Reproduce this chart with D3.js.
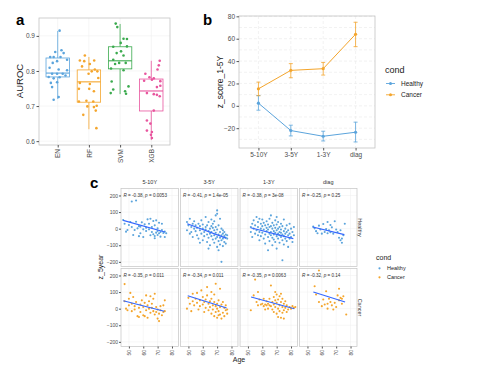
<!DOCTYPE html>
<html>
<head>
<meta charset="utf-8">
<script src="https://cdn.jsdelivr.net/npm/d3@7"></script>
<style>
  body { margin: 0; background: #fff; }
  svg { display: block; font-family: "Liberation Sans", Arial, sans-serif; }
</style>
</head>
<body>
<svg id="canvas" width="485" height="367"></svg>
<script>
// ---- panel a data ----
const models = ["EN", "RF", "SVM", "XGB"];
// [lower whisker, q1, median, q3, upper whisker]
const boxStats = [
  [0.720, 0.783, 0.794, 0.837, 0.914],
  [0.634, 0.711, 0.769, 0.803, 0.840],
  [0.734, 0.806, 0.829, 0.869, 0.934],
  [0.603, 0.686, 0.743, 0.777, 0.829]
];
// [auroc, jitter offset in category units]
const enPoints = [[0.915,0.06],[0.859,0.12],[0.854,-0.08],[0.851,0.19],[0.84,-0.24],[0.84,-0.13],[0.84,0.09],[0.828,-0.02],[0.832,0.30],[0.823,-0.16],[0.809,-0.26],[0.804,0.03],[0.802,0.30],[0.792,-0.18],[0.792,-0.02],[0.792,0.16],[0.783,-0.29],[0.782,0.06],[0.787,0.25],[0.779,-0.13],[0.766,-0.22],[0.768,-0.02],[0.754,-0.18],[0.726,0.03],[0.718,-0.13]];
const rfPoints = [[0.844,-0.13],[0.83,-0.29],[0.828,-0.15],[0.83,0.17],[0.82,0.03],[0.813,-0.22],[0.804,0.19],[0.799,0.27],[0.799,0.09],[0.792,-0.01],[0.78,0.30],[0.766,-0.29],[0.763,0.03],[0.749,-0.32],[0.749,0.01],[0.742,0.16],[0.713,-0.32],[0.715,-0.08],[0.713,0.14],[0.701,0.25],[0.699,-0.05],[0.697,0.16],[0.687,0.22],[0.675,-0.18],[0.637,0.24]];
const svmPoints = [[0.935,-0.14],[0.925,-0.09],[0.892,0.11],[0.891,0.22],[0.88,0.02],[0.869,-0.22],[0.87,0.22],[0.856,0.03],[0.851,-0.11],[0.844,0.11],[0.832,-0.22],[0.823,-0.03],[0.82,-0.16],[0.823,0.18],[0.807,-0.29],[0.802,0.11],[0.77,-0.27],[0.756,0.27],[0.747,-0.22],[0.742,0.16],[0.737,-0.30],[0.735,0.19]];
const xgbPoints = [[0.829,0.27],[0.816,0.24],[0.804,0.20],[0.792,-0.19],[0.772,-0.23],[0.782,-0.06],[0.779,0.08],[0.775,0.02],[0.771,0.29],[0.754,0.18],[0.737,-0.14],[0.734,0.08],[0.732,0.18],[0.728,0.27],[0.758,0.29],[0.687,0.08],[0.659,-0.14],[0.65,-0.03],[0.63,-0.14],[0.626,0.02],[0.618,-0.01],[0.609,0.02]];
const modelPoints = [enPoints, rfPoints, svmPoints, xgbPoints];
const modelColors = ["#5BA4DC", "#F4A52C", "#3BAA4E", "#E8559E"];
const aTicks = [0.6, 0.7, 0.8, 0.9];

// ---- panel b data ----
const periods = ["5-10Y", "3-5Y", "1-3Y", "diag"];
const conds = ["Healthy", "Cancer"];
const condColors = ["#5BA4DC", "#F4A52C"];
const healthyMean = [2.4, -22.1, -27.2, -23.6];
const healthyLo = [-3.9, -26.9, -31.4, -32.3];
const healthyHi = [9.2, -17.3, -22.7, -14.6];
const cancerMean = [15.2, 31.7, 33.2, 64.0];
const cancerLo = [9.0, 25.1, 27.5, 52.9];
const cancerHi = [21.2, 37.7, 38.8, 74.7];
const bTicks = [-20, 0, 20, 40, 60, 80];

// ---- panel c data: [age, z_5year] ----
const h510 = [[46,52],[47,30],[48,-18],[49,-8],[50,22],[51,40],[52,10],[52,164],[53,-38],[54,-8],[55,42],[55,170],[56,2],[57,15],[57,-45],[58,-28],[59,38],[60,-4],[61,26],[62,-14],[62,6],[63,56],[64,30],[64,-4],[65,-40],[66,10],[66,-20],[67,46],[67,-34],[68,-44],[68,20],[68,-58],[69,-24],[69,50],[70,-38],[70,2],[70,-14],[71,-28],[71,36],[72,-20],[72,-48],[73,-8],[73,30],[74,-26],[75,-18],[75,-50],[76,-28],[65,60],[60,-50],[58,12]];
const h35 = [[49,40],[49,-10],[50,20],[51,-30],[51,60],[52,10],[52,-20],[53,30],[53,-50],[54,0],[54,45],[55,-15],[55,20],[56,-40],[56,5],[57,30],[57,-60],[58,-10],[58,15],[59,-30],[59,50],[60,0],[60,-70],[60,25],[61,-20],[61,-45],[62,10],[62,-5],[62,70],[63,-35],[63,-80],[63,20],[64,-15],[64,-55],[64,40],[65,0],[65,-30],[65,-100],[66,15],[66,-45],[66,-20],[67,-65],[67,5],[67,30],[68,-10],[68,-40],[68,-85],[69,-25],[69,10],[69,-60],[69,80],[70,-50],[70,-5],[70,-110],[70,110],[71,-35],[71,-75],[71,20],[72,-20],[72,-55],[72,-95],[72,60],[73,-40],[73,0],[73,-200],[73,-70],[74,-30],[74,-60],[74,-10],[74,-105],[75,-45],[75,-80],[75,-20],[76,-55],[76,-35],[76,-90],[77,-60],[77,-40],[68,45],[66,55],[64,-120],[71,-130],[70,90],[58,-85]];
const h13 = [[52,10],[52,-20],[53,30],[53,-50],[54,0],[54,50],[55,-30],[55,20],[56,-10],[56,70],[57,-40],[57,10],[57,40],[58,-20],[58,-70],[59,0],[59,30],[59,-45],[60,15],[60,-25],[60,55],[61,-5],[61,-60],[61,35],[62,20],[62,-35],[62,-90],[63,5],[63,45],[63,-15],[64,-50],[64,25],[64,-5],[65,-30],[65,60],[65,10],[65,-75],[66,-20],[66,15],[66,-40],[66,80],[67,0],[67,-55],[67,35],[67,-100],[68,-15],[68,20],[68,-35],[68,-65],[69,5],[69,-25],[69,50],[69,-80],[70,-10],[70,-45],[70,25],[70,-120],[71,-30],[71,0],[71,-60],[71,40],[72,-20],[72,-40],[72,10],[72,-85],[73,-5],[73,-50],[73,30],[73,-25],[74,-35],[74,-190],[74,-70],[74,15],[75,-15],[75,-45],[75,-95],[75,55],[76,-30],[76,0],[76,-60],[77,-20],[77,-75],[77,20],[78,-40],[78,-10],[78,-110],[79,-30],[79,-60],[80,-50],[80,0],[81,-20],[81,-80],[82,-40],[82,10],[64,-130],[58,60],[70,70],[79,30]];
const hdg = [[54,12],[55,2],[56,-15],[57,-28],[58,18],[59,-5],[60,-30],[61,28],[62,-20],[63,-2],[64,40],[64,-28],[65,-10],[66,-22],[67,8],[68,-30],[69,45],[70,-5],[71,-20],[72,-55],[73,-70],[73,-10],[74,-85],[74,-60],[75,-40],[76,30],[66,22]];
const c510 = [[47,148],[47,45],[48,0],[49,-10],[50,60],[50,20],[51,95],[52,-15],[52,30],[53,70],[54,-5],[54,15],[55,40],[56,-45],[57,5],[58,25],[58,-20],[59,50],[60,10],[60,-40],[61,35],[62,-10],[62,80],[63,20],[63,-55],[64,45],[64,0],[65,75],[65,-25],[66,30],[66,5],[67,60],[67,-15],[68,-35],[68,90],[69,10],[69,-20],[70,-5],[70,-60],[71,-75],[71,-30],[72,15],[72,-10],[73,-40],[74,-20],[74,20],[75,50],[75,-15],[57,-50],[61,-45]];
const c35 = [[49,0],[50,65],[51,30],[52,-15],[53,90],[53,45],[54,20],[55,60],[56,35],[56,95],[57,-5],[58,50],[58,15],[59,110],[60,70],[60,25],[61,40],[61,-20],[62,55],[62,5],[63,80],[63,130],[64,30],[64,-10],[65,45],[65,10],[66,-30],[66,60],[67,20],[67,-5],[68,40],[68,-45],[68,85],[69,15],[69,-20],[69,150],[70,30],[70,0],[70,-55],[71,50],[71,-15],[72,10],[72,-35],[72,120],[73,25],[73,-60],[74,-25],[74,40],[75,5],[75,-45],[76,-10],[76,20],[77,-30],[77,-5],[66,100],[71,-40]];
const c13 = [[52,-10],[54,80],[55,175],[56,40],[57,100],[57,20],[58,55],[59,25],[60,30],[61,15],[61,60],[62,25],[63,20],[63,45],[64,30],[65,20],[65,60],[66,140],[66,15],[67,40],[67,-5],[68,25],[68,70],[68,-20],[69,50],[69,10],[70,-30],[70,85],[70,35],[71,0],[71,55],[71,-50],[72,20],[72,75],[72,-15],[73,40],[73,90],[73,-55],[74,10],[74,60],[74,-25],[75,30],[75,-10],[75,-60],[76,5],[76,45],[77,-20],[77,20],[78,-5],[79,10],[80,0],[81,15],[82,5],[83,10],[62,-5],[69,100],[64,0]];
const cdg = [[55,135],[56,85],[58,40],[58,230],[60,15],[61,55],[62,25],[63,105],[64,30],[64,0],[65,60],[66,40],[67,20],[68,-5],[69,35],[70,10],[71,80],[72,120],[72,50],[73,65],[74,30],[74,60],[75,75],[77,-35]];
const scatterData = [[h510, h35, h13, hdg], [c510, c35, c13, cdg]];
// fitted lines [age0, y0, age1, y1]
const fitLines = [
  [[46,50,75,-20],[49.2,30,76.2,-57],[51.9,6,81.6,-60],[53.7,10,75.7,-36]],
  [[46.1,48,74.6,-16],[49.5,78,76.6,4],[52.2,70,82.3,0],[54.1,100,76.2,40]]
];
const corrR = [["-0.38","-0.41","-0.38","-0.25"], ["-0.35","-0.34","-0.35","-0.32"]];
const corrP = [["0.0053","1.4e-05","3e-08","0.25"], ["0.011","0.011","0.0063","0.14"]];
const cYTicks = [-200, -100, 0, 100, 200];
const cXTicks = [50, 60, 70, 80];

const svg = d3.select("#canvas");
const borderCol = "#c4c4c4";
const gridCol = "#eeeeee";
const tickCol = "#555";

// ================= panel a =================
let xa = d3.scalePoint().domain(models).range([39, 170]).padding(0.6);
let ya = d3.scaleLinear().domain([0.589, 0.951]).range([145, 18]);
let step = xa.step();
let ga = svg.append("g");

ga.selectAll(".gy").data(aTicks).join("line")
  .attr("x1", 39).attr("x2", 170)
  .attr("y1", d => ya(d)).attr("y2", d => ya(d))
  .attr("stroke", gridCol).attr("stroke-width", 0.6);
ga.selectAll(".gx").data(models).join("line")
  .attr("x1", d => xa(d)).attr("x2", d => xa(d))
  .attr("y1", 18).attr("y2", 145)
  .attr("stroke", gridCol).attr("stroke-width", 0.6);

models.forEach((m, i) => {
  let s = boxStats[i], cx = xa(m), hw = step * 0.375, c = modelColors[i];
  let g = ga.append("g").attr("stroke", c).attr("fill", "none").attr("stroke-width", 0.8);
  g.append("line").attr("x1", cx).attr("x2", cx).attr("y1", ya(s[0])).attr("y2", ya(s[1]));
  g.append("line").attr("x1", cx).attr("x2", cx).attr("y1", ya(s[3])).attr("y2", ya(s[4]));
  g.append("rect").attr("x", cx - hw).attr("width", hw * 2)
    .attr("y", ya(s[3])).attr("height", ya(s[1]) - ya(s[3])).attr("fill", "#fff");
  g.append("line").attr("x1", cx - hw).attr("x2", cx + hw)
    .attr("y1", ya(s[2])).attr("y2", ya(s[2])).attr("stroke-width", 1.1);
  ga.append("g").selectAll("circle").data(modelPoints[i]).join("circle")
    .attr("cx", d => cx + d[1] * step).attr("cy", d => ya(d[0]))
    .attr("r", 1.3).attr("fill", c);
});
ga.append("rect").attr("x", 39).attr("y", 18).attr("width", 131).attr("height", 127)
  .attr("fill", "none").attr("stroke", borderCol).attr("stroke-width", 0.8);

let axA = ga.append("g").attr("transform", "translate(39,0)")
  .call(d3.axisLeft(ya).tickValues(aTicks).tickFormat(d3.format(".1f")).tickSize(2.5).tickPadding(1.5));
let axAx = ga.append("g").attr("transform", "translate(0,145)")
  .call(d3.axisBottom(xa).tickSize(2.5));
axAx.selectAll("text").attr("transform", "rotate(-90)").attr("text-anchor", "end")
  .attr("x", -4).attr("y", 0).attr("dy", "0.35em");
[axA, axAx].forEach(ax => {
  ax.select(".domain").remove();
  ax.selectAll("line").attr("stroke", tickCol);
  ax.selectAll("text").attr("fill", "#4d4d4d").style("font-size", "6.5px");
});
ga.append("text").attr("transform", "translate(23,81) rotate(-90)")
  .attr("text-anchor", "middle").style("font-size", "9.5px").attr("fill", "#222").text("AUROC");
svg.append("text").attr("x", 16).attr("y", 25).style("font-size", "15px")
  .style("font-weight", "bold").text("a");

// ================= panel b =================
let xb = d3.scalePoint().domain(periods).range([239, 375]).padding(0.6);
let yb = d3.scaleLinear().domain([-37.7, 80.3]).range([148, 16]);
let gb = svg.append("g");
gb.selectAll(".gy").data(bTicks.concat([-30, -10, 10, 30, 50, 70])).join("line")
  .attr("x1", 239).attr("x2", 375)
  .attr("y1", d => yb(d)).attr("y2", d => yb(d))
  .attr("stroke", "#e9e9e9").attr("stroke-width", 0.6).attr("stroke-dasharray", "3,2");
gb.selectAll(".gx").data(periods).join("line")
  .attr("x1", d => xb(d)).attr("x2", d => xb(d)).attr("y1", 16).attr("y2", 148)
  .attr("stroke", "#e9e9e9").attr("stroke-width", 0.6).attr("stroke-dasharray", "3,2");

let bSeries = [
  periods.map((p, i) => ({ p, m: healthyMean[i], lo: healthyLo[i], hi: healthyHi[i] })),
  periods.map((p, i) => ({ p, m: cancerMean[i], lo: cancerLo[i], hi: cancerHi[i] }))
];
let lineB = d3.line().x(d => xb(d.p)).y(d => yb(d.m));
bSeries.forEach((ser, k) => {
  let c = condColors[k];
  let g = gb.append("g");
  g.selectAll(".eb").data(ser).join("path")
    .attr("d", d => `M${xb(d.p) - 2},${yb(d.hi)}H${xb(d.p) + 2}M${xb(d.p)},${yb(d.hi)}V${yb(d.lo)}M${xb(d.p) - 2},${yb(d.lo)}H${xb(d.p) + 2}`)
    .attr("stroke", c).attr("stroke-width", 0.8).attr("fill", "none");
  g.append("path").datum(ser).attr("d", lineB)
    .attr("stroke", c).attr("stroke-width", 1).attr("fill", "none");
  g.selectAll("circle").data(ser).join("circle")
    .attr("cx", d => xb(d.p)).attr("cy", d => yb(d.m)).attr("r", 1.6).attr("fill", c);
});
gb.append("rect").attr("x", 239).attr("y", 16).attr("width", 136).attr("height", 132)
  .attr("fill", "none").attr("stroke", borderCol).attr("stroke-width", 0.8);
let axB = gb.append("g").attr("transform", "translate(239,0)")
  .call(d3.axisLeft(yb).tickValues(bTicks).tickSize(2.5).tickPadding(1.5));
let axBx = gb.append("g").attr("transform", "translate(0,148)")
  .call(d3.axisBottom(xb).tickSize(2.5).tickPadding(1.5));
[axB, axBx].forEach(ax => {
  ax.select(".domain").remove();
  ax.selectAll("line").attr("stroke", tickCol);
  ax.selectAll("text").attr("fill", "#4d4d4d").style("font-size", "6.5px");
});
gb.append("text").attr("transform", "translate(223,82) rotate(-90)")
  .attr("text-anchor", "middle").style("font-size", "8.5px").attr("fill", "#222").text("z_score_1-5Y");
svg.append("text").attr("x", 203).attr("y", 25).style("font-size", "15px")
  .style("font-weight", "bold").text("b");
// legend b
let lgB = svg.append("g");
lgB.append("text").attr("x", 385).attr("y", 73).style("font-size", "9px").attr("fill", "#222").text("cond");
conds.forEach((c, k) => {
  let y = 83.5 + k * 11.3;
  lgB.append("line").attr("x1", 386).attr("x2", 395).attr("y1", y).attr("y2", y)
    .attr("stroke", condColors[k]).attr("stroke-width", 0.9);
  lgB.append("circle").attr("cx", 390.5).attr("cy", y).attr("r", 1.5).attr("fill", condColors[k]);
  lgB.append("text").attr("x", 401).attr("y", y).attr("dy", "0.35em")
    .style("font-size", "6.5px").attr("fill", "#222").text(c);
});

// ================= panel c =================
const pw = 57.5, ph = 78;
let xcPanel = d3.scaleBand().domain(periods).range([121, 357]).paddingInner(0.035);
let rowTop = [188.5, 268.5];
let gc = svg.append("g");
conds.forEach((cond, r) => {
  let yc = d3.scaleLinear().domain([-228, 242]).range([rowTop[r] + ph, rowTop[r]]);
  periods.forEach((per, j) => {
    let left = xcPanel(per), w = xcPanel.bandwidth();
    let xc = d3.scaleLinear().domain([44.5, 84.5]).range([left, left + w]);
    let g = gc.append("g");
    g.selectAll(".gy").data(cYTicks).join("line")
      .attr("x1", left).attr("x2", left + w).attr("y1", d => yc(d)).attr("y2", d => yc(d))
      .attr("stroke", gridCol).attr("stroke-width", 0.5);
    g.selectAll(".gx").data(cXTicks).join("line")
      .attr("x1", d => xc(d)).attr("x2", d => xc(d)).attr("y1", rowTop[r]).attr("y2", rowTop[r] + ph)
      .attr("stroke", gridCol).attr("stroke-width", 0.5);
    g.selectAll("circle").data(scatterData[r][j]).join("circle")
      .attr("cx", d => xc(d[0])).attr("cy", d => yc(d[1])).attr("r", 1.05)
      .attr("fill", condColors[r]);
    let f = fitLines[r][j];
    g.append("line").attr("x1", xc(f[0])).attr("y1", yc(f[1])).attr("x2", xc(f[2])).attr("y2", yc(f[3]))
      .attr("stroke", "#3366FF").attr("stroke-width", 1.1);
    let t = g.append("text").attr("x", left + 2.5).attr("y", yc(200)).attr("dy", "0.35em")
      .style("font-size", "4.6px").attr("fill", "#333");
    t.append("tspan").style("font-style", "italic").text("R");
    t.append("tspan").text(" = " + corrR[r][j] + ", ");
    t.append("tspan").style("font-style", "italic").text("p");
    t.append("tspan").text(" = " + corrP[r][j]);
    g.append("rect").attr("x", left).attr("y", rowTop[r]).attr("width", w).attr("height", ph)
      .attr("fill", "none").attr("stroke", borderCol).attr("stroke-width", 0.7);
    if (r === 0) {
      g.append("text").attr("x", left + w / 2).attr("y", 184).attr("text-anchor", "middle")
        .style("font-size", "5.5px").attr("fill", "#333").text(per);
    }
    if (r === 1) {
      let ax = g.append("g").attr("transform", `translate(0,${rowTop[r] + ph})`)
        .call(d3.axisBottom(xc).tickValues(cXTicks).tickSize(2));
      ax.select(".domain").remove();
      ax.selectAll("line").attr("stroke", tickCol);
      ax.selectAll("text").attr("transform", "rotate(-90)").attr("text-anchor", "end")
        .attr("x", -3.5).attr("y", 0).attr("dy", "0.35em")
        .attr("fill", "#4d4d4d").style("font-size", "5px");
    }
    if (j === 0) {
      let ax = g.append("g").attr("transform", `translate(${left},0)`)
        .call(d3.axisLeft(yc).tickValues(cYTicks).tickSize(2).tickPadding(1));
      ax.select(".domain").remove();
      ax.selectAll("line").attr("stroke", tickCol);
      ax.selectAll("text").attr("fill", "#4d4d4d").style("font-size", "5px");
    }
  });
  gc.append("text").attr("transform", `translate(360,${rowTop[r] + ph / 2}) rotate(90)`)
    .attr("text-anchor", "middle").attr("dy", "0.35em").style("font-size", "5.5px")
    .attr("fill", "#333").text(cond);
});
gc.append("text").attr("transform", "translate(103,267) rotate(-90)")
  .attr("text-anchor", "middle").style("font-size", "7px").attr("fill", "#222").text("z_5year");
gc.append("text").attr("x", 239).attr("y", 362).attr("text-anchor", "middle")
  .style("font-size", "7px").attr("fill", "#222").text("Age");
svg.append("text").attr("x", 90).attr("y", 188).style("font-size", "15px")
  .style("font-weight", "bold").text("c");
// legend c
let lgC = svg.append("g");
lgC.append("text").attr("x", 376).attr("y", 260).style("font-size", "7px").attr("fill", "#222").text("cond");
conds.forEach((c, k) => {
  let y = 268.3 + k * 9;
  lgC.append("circle").attr("cx", 379.5).attr("cy", y).attr("r", 1.1).attr("fill", condColors[k]);
  lgC.append("text").attr("x", 387).attr("y", y).attr("dy", "0.35em")
    .style("font-size", "5.5px").attr("fill", "#222").text(c);
});
</script>
</body>
</html>
